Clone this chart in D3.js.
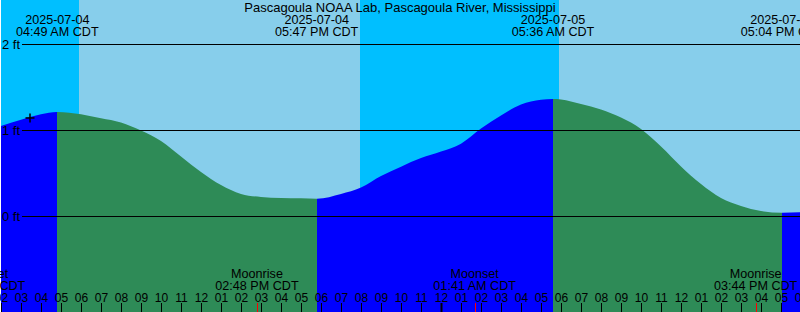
<!DOCTYPE html>
<html><head><meta charset="utf-8">
<script src="https://cdn.jsdelivr.net/npm/d3@7"></script>
<style>
html,body{margin:0;padding:0;background:#fff;}
svg{display:block;}
text{font-family:"Liberation Sans",Arial,sans-serif;font-size:12.6px;fill:#000;}
.title{font-size:13px;}
.ylab{font-size:13px;}
.hour text{font-size:12px;}
</style></head>
<body>
<script>
const title = "Pascagoula NOAA Lab, Pascagoula River, Mississippi";
// hourly tide predictions (local CDT time, ft)
const tideTimes = ["2025-07-04 02:00","2025-07-04 03:00","2025-07-04 04:00","2025-07-04 05:00","2025-07-04 06:00","2025-07-04 07:00","2025-07-04 08:00","2025-07-04 09:00","2025-07-04 10:00","2025-07-04 11:00","2025-07-04 12:00","2025-07-04 13:00","2025-07-04 14:00","2025-07-04 15:00","2025-07-04 16:00","2025-07-04 17:00","2025-07-04 18:00","2025-07-04 19:00","2025-07-04 20:00","2025-07-04 21:00","2025-07-04 22:00","2025-07-04 23:00","2025-07-05 00:00","2025-07-05 01:00","2025-07-05 02:00","2025-07-05 03:00","2025-07-05 04:00","2025-07-05 05:00","2025-07-05 06:00","2025-07-05 07:00","2025-07-05 08:00","2025-07-05 09:00","2025-07-05 10:00","2025-07-05 11:00","2025-07-05 12:00","2025-07-05 13:00","2025-07-05 14:00","2025-07-05 15:00","2025-07-05 16:00","2025-07-05 17:00","2025-07-05 18:00"];
const tideFt = [1.047,1.12,1.183,1.208,1.184,1.137,1.088,0.994,0.872,0.692,0.512,0.36,0.256,0.221,0.209,0.205,0.203,0.256,0.331,0.465,0.574,0.674,0.75,0.841,1.017,1.169,1.297,1.351,1.355,1.302,1.238,1.145,1.012,0.808,0.576,0.372,0.209,0.116,0.058,0.040,0.043];
// high / low tide events
const extremeTimes = ["2025-07-04 04:49","2025-07-04 17:47","2025-07-05 05:36","2025-07-05 17:04"];
const extremeType = ["H","L","H","L"];
const extremeFt = [1.21,0.201,1.36,0.038];
// sun events
const sunTimes = ["2025-07-04 05:54","2025-07-04 19:57","2025-07-05 05:54","2025-07-05 19:57"];
const sunType = ["rise","set","rise","set"];
// moon events
const moonTimes = ["2025-07-04 01:09","2025-07-04 14:48","2025-07-05 01:41","2025-07-05 15:44"];
const moonType = ["Moonset","Moonrise","Moonset","Moonrise"];
// current reading marker
const nowTime = "2025-07-04 03:27";
const nowFt = 1.14;
// y gridlines
const yTicks = [0,1,2];
const domainStart = "2025-07-04 02:00", domainEnd = "2025-07-05 18:00";

const W = 800, H = 312;
const parse = d3.utcParse("%Y-%m-%d %H:%M");
const x = d3.scaleUtc().domain([parse(domainStart), parse(domainEnd)]).range([1, 801]);
const y = d3.scaleLinear().domain([0, 2]).range([216, 44]);

const svg = d3.select("body").append("svg").attr("width", W).attr("height", H);

// background day / night
const sunEv = sunTimes.map((t,i)=>({t:parse(t), type:sunType[i]}));
const bounds = [x.domain()[0], ...sunEv.map(d=>d.t), x.domain()[1]];
const bgSegs = [];
for (let i=0;i<bounds.length-1;i++){
  const nextType = i < sunEv.length ? sunEv[i].type : (sunEv[sunEv.length-1].type==="rise"?"set":"rise");
  bgSegs.push({a:bounds[i], b:bounds[i+1], day: nextType==="set"});
}
svg.append("g").selectAll("rect").data(bgSegs).join("rect")
  .attr("x", d=>Math.max(0, x(d.a)) ).attr("y",0)
  .attr("width", d=>Math.max(0, Math.min(W, x(d.b)) - Math.max(0,x(d.a))))
  .attr("height", H)
  .attr("fill", d=>d.day ? "#87CEEB" : "#00BFFF")
  .attr("shape-rendering","crispEdges");

// tide curve
const ext = extremeTimes.map((t,i)=>({t:parse(t), v:extremeFt[i], type:extremeType[i]}));
const pts = tideTimes.map((t,i)=>({t:parse(t), v:tideFt[i]}))
  .filter(p => !ext.some(e => Math.abs(e.t - p.t) < 20*60000))
  .concat(ext.map(e=>({t:e.t, v:e.v})))
  .sort((a,b)=>a.t-b.t);
const area = d3.area().curve(d3.curveMonotoneX)
  .x(d=>x(d.t)).y0(H).y1(d=>y(d.v));

const tBounds = [x.domain()[0], ...ext.map(e=>e.t), x.domain()[1]];
const fillSegs = [];
for (let i=0;i<tBounds.length-1;i++){
  const rising = i < ext.length ? ext[i].type==="H" : ext[ext.length-1].type==="L";
  fillSegs.push({a:tBounds[i], b:tBounds[i+1], rising});
}
const defs = svg.append("defs");
fillSegs.forEach((s,i)=>{
  const x0 = i===0 ? -10 : Math.round(x(s.a));
  const x1 = i===fillSegs.length-1 ? W+10 : Math.round(x(s.b));
  defs.append("clipPath").attr("id","seg"+i).append("rect")
    .attr("x", x0).attr("y", 0).attr("width", x1 - x0).attr("height", H);
  svg.append("path").datum(pts).attr("d", area)
    .attr("clip-path", `url(#seg${i})`)
    .attr("fill", s.rising ? "#0000FF" : "#2E8B57");
});

// horizontal gridlines and labels
const gy = svg.append("g");
gy.selectAll("line").data(yTicks).join("line")
  .attr("x1", 22).attr("x2", W)
  .attr("y1", d=>Math.round(y(d))+0.5).attr("y2", d=>Math.round(y(d))+0.5)
  .attr("stroke","#000").attr("stroke-width",1);
gy.selectAll("text").data(yTicks).join("text").attr("class","ylab")
  .attr("x", 2).attr("y", d=>Math.round(y(d))+5)
  .text(d=>d+" ft");

// title
svg.append("text").attr("class","title").attr("x", 400).attr("y", 12).attr("text-anchor","middle").text(title);

// extreme labels
const fDate = d3.utcFormat("%Y-%m-%d"), fTime = d3.utcFormat("%I:%M %p CDT");
const el = svg.append("g").selectAll("g").data(ext).join("g")
  .attr("transform", d=>`translate(${x(d.t)},0)`);
el.append("text").attr("y",24).attr("text-anchor","middle").text(d=>fDate(d.t));
el.append("text").attr("y",36).attr("text-anchor","middle").text(d=>fTime(d.t));

// hour axis
const axis = d3.axisTop(x).ticks(d3.utcHour.every(1)).tickFormat(d3.utcFormat("%I"))
  .tickSize(9).tickPadding(1);
const ax = svg.append("g").attr("class","hour").attr("transform", `translate(0,${H})`).call(axis);
ax.select(".domain").remove();
ax.attr("font-family", null).attr("font-size", null);
ax.selectAll("text").attr("fill","#000");
ax.selectAll("line").attr("stroke","#000")
  .attr("stroke-width", d=> (d.getUTCHours()===0 ? 2 : 1));

// moon events
const moon = moonTimes.map((t,i)=>({t:parse(t), type:moonType[i]}));
svg.append("g").selectAll("line").data(moon).join("line")
  .attr("x1", d=>Math.round(x(d.t))+0.5).attr("x2", d=>Math.round(x(d.t))+0.5)
  .attr("y1", H-9).attr("y2", H).attr("stroke","#FF0000");
const ml = svg.append("g").selectAll("g").data(moon).join("g")
  .attr("transform", d=>`translate(${x(d.t)},0)`);
ml.append("text").attr("y",278).attr("text-anchor","middle").text(d=>d.type);
ml.append("text").attr("y",290).attr("text-anchor","middle").text(d=>fTime(d.t));

// current marker
const cx = x(parse(nowTime)), cy = y(nowFt);
const pm = svg.append("g").attr("stroke","#000").attr("stroke-width",1.5);
pm.append("line").attr("x1",cx-4.5).attr("x2",cx+4.5).attr("y1",cy).attr("y2",cy);
pm.append("line").attr("x1",cx).attr("x2",cx).attr("y1",cy-4.5).attr("y2",cy+4.5);
</script>
</body></html>
